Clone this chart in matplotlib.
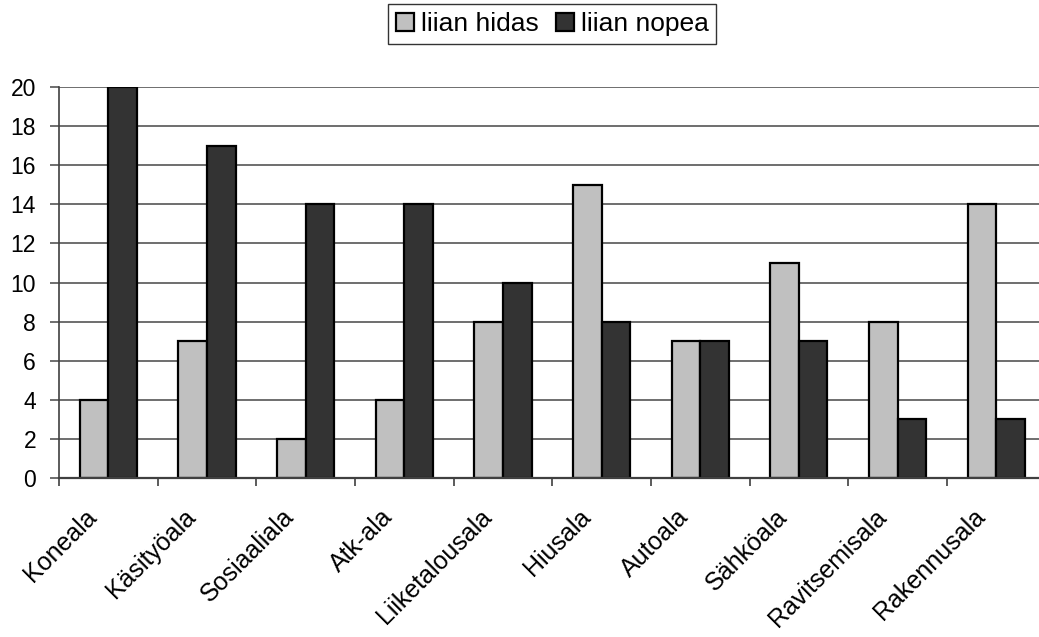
import matplotlib
matplotlib.use("Agg")
import matplotlib.pyplot as plt
import matplotlib.transforms as mtransforms
import numpy as np
from matplotlib.patches import Patch

categories = ["Koneala", "Käsityöala", "Sosiaaliala", "Atk-ala", "Liiketalousala",
              "Hiusala", "Autoala", "Sähköala", "Ravitsemisala", "Rakennusala"]
hidas = [4, 7, 2, 4, 8, 15, 7, 11, 8, 14]
nopea = [20, 17, 14, 14, 10, 8, 7, 7, 3, 3]
yticks = list(range(0, 21, 2))

plt.rcParams['font.family'] = ['Liberation Sans', 'DejaVu Sans']

fig = plt.figure(figsize=(10.39, 6.37), dpi=100)
W, H = 1039, 637
ax = fig.add_axes([59 / W, (H - 478) / H, (1045.5 - 59) / W, (478 - 87) / H])

x = np.arange(len(categories))
bw = 0.29
c_light = "#c0c0c0"
c_dark = "#333333"
ax.bar(x - bw / 2, hidas, bw, color=c_light, edgecolor="black", linewidth=1.6, zorder=3)
ax.bar(x + bw / 2, nopea, bw, color=c_dark, edgecolor="black", linewidth=1.6, zorder=3)

ax.set_xlim(-0.5, len(categories) - 0.5)
ax.set_ylim(0, 20)
ax.set_yticks(yticks)
ax.set_yticklabels([str(v) for v in yticks], fontsize=16.5)
for v in yticks[1:]:
    ax.axhline(v, color="#555555", linewidth=1.2, zorder=1)

# category labels
ax.set_xticks([])
offset = mtransforms.ScaledTranslation(-15 / 100, -35 / 100, fig.dpi_scale_trans)
trans = ax.get_xaxis_transform() + offset
for xi, lab in zip(x, categories):
    ax.text(xi, 0, lab, transform=trans, rotation=45, ha="right", va="center",
            rotation_mode="anchor", fontsize=18)

ax.set_xticks(np.arange(-0.5, len(categories), 1), minor=True)
ax.tick_params(axis="x", which="minor", length=6, width=1.2, color="#404040")
ax.tick_params(axis="y", length=6.5, width=1.2, color="#555555", pad=10)

for s in ["top", "right"]:
    ax.spines[s].set_visible(False)
ax.spines["left"].set_color("#404040")
ax.spines["left"].set_linewidth(1.2)
ax.spines["bottom"].set_color("#404040")
ax.spines["bottom"].set_linewidth(1.6)
ax.spines["bottom"].set_zorder(4)

handles = [Patch(facecolor=c_light, edgecolor="black", linewidth=1.6, label="liian hidas"),
           Patch(facecolor=c_dark, edgecolor="black", linewidth=1.6, label="liian nopea")]
leg = fig.legend(handles=handles, loc="center", bbox_to_anchor=(552 / W, 1 - 24 / H),
                 ncol=2, fontsize=19, frameon=True, fancybox=False, edgecolor="black",
                 handlelength=0.7, handleheight=0.7, handletextpad=0.25, columnspacing=0.65,
                 borderpad=0.3, borderaxespad=0)
leg.get_frame().set_linewidth(1.0)

fig.savefig("out.png", dpi=100)
